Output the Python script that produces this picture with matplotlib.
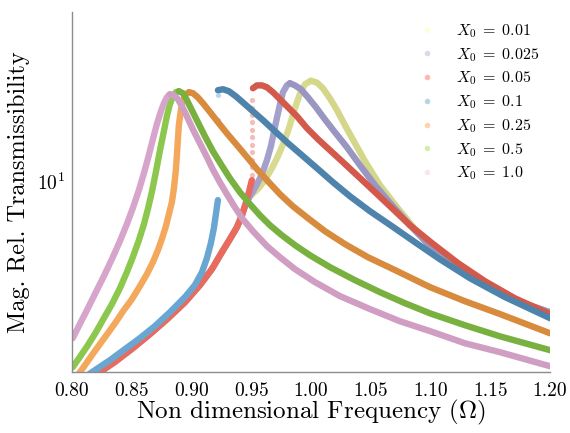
#Curvas de transmissibilidade relativa
import matplotlib
matplotlib.use('Agg')
import matplotlib.pyplot as plt
from matplotlib.lines import Line2D
from matplotlib.ticker import NullFormatter, FixedLocator

plt.rcParams['font.family'] = 'serif'
plt.rcParams['font.serif'] = ['cmr10']
plt.rcParams['mathtext.fontset'] = 'cm'
plt.rcParams['axes.unicode_minus'] = False

labels = [r'$X_0\;=\;0.01$', r'$X_0\;=\;0.025$', r'$X_0\;=\;0.05$', r'$X_0\;=\;0.1$',
          r'$X_0\;=\;0.25$', r'$X_0\;=\;0.5$', r'$X_0\;=\;1.0$']

# trecho de subida comum (X0 = 0.01 e 0.025)
w_comum = [0.8008, 0.8109, 0.8209, 0.8360, 0.8510, 0.8653, 0.8795, 0.8946, 0.9071, 0.9172,
           0.9255, 0.9322, 0.9381, 0.9423, 0.9456]
t_comum = [1.57, 1.67, 1.775, 1.98, 2.24, 2.54, 2.90, 3.38, 3.94, 4.55,
           5.29, 5.95, 6.62, 7.37, 8.21]

# X0 = 0.01
w_a_up = w_comum + [0.9490, 0.9556, 0.9615, 0.9674, 0.9724, 0.9774, 0.9816, 0.9849, 0.9883,
                    0.9916, 0.9950, 1.0000]
t_a_up = t_comum + [8.74, 9.31, 10.09, 11.24, 12.51, 14.18, 16.08, 18.06, 20.3,
                    22.4, 23.85, 24.6]
w_a_dn = [1.0000, 1.0050, 1.0100, 1.0159, 1.0218, 1.0285, 1.0368, 1.0452, 1.0577, 1.0720,
          1.0870, 1.0996, 1.1205, 1.1414, 1.1707, 1.2]
t_a_dn = [24.6, 24.2, 23.0, 21.0, 18.9, 16.5, 14.06, 11.96, 9.65, 7.92,
          6.51, 5.59, 4.71, 4.05, 3.44, 3.09]

# X0 = 0.025
w_b_up = w_comum + [0.9490, 0.9540, 0.9590, 0.9632, 0.9665, 0.9690, 0.9715, 0.9741, 0.9766,
                    0.9799, 0.9824]
t_b_up = t_comum + [8.74, 9.56, 10.65, 12.07, 13.68, 15.5, 17.6, 19.9, 22.2,
                    23.6, 24.06]
w_b_dn = [0.9824, 0.9866, 0.9916, 0.9975, 1.0042, 1.0117, 1.0201, 1.0301, 1.0410, 1.0536,
          1.0678, 1.0828, 1.0996, 1.1205, 1.1414, 1.1707, 1.2]
t_b_dn = [24.06, 23.6, 22.8, 21.2, 19.4, 17.4, 15.5, 13.56, 11.54, 9.65,
          8.06, 6.74, 5.59, 4.71, 4.05, 3.44, 3.09]

# X0 = 0.05
w_c_up = [0.8008, 0.8109, 0.8209, 0.8360, 0.8510, 0.8653, 0.8795, 0.8946, 0.9071, 0.9172,
          0.9255, 0.9322, 0.9381, 0.9423, 0.9456, 0.9481, 0.9506]
t_c_up = [1.57, 1.67, 1.775, 1.98, 2.24, 2.54, 2.90, 3.38, 3.94, 4.55,
          5.29, 5.95, 6.62, 7.37, 8.21, 9.06, 10.09]
w_c_jump = [0.9506] * 11
t_c_jump = [10.55, 11.33, 12.07, 12.97, 13.8, 14.8, 15.8, 16.97, 18.06, 19.2, 20.7]
w_c_dn = [0.9515, 0.9548, 0.9590, 0.9632, 0.9682, 0.9741, 0.9808, 0.9883, 0.9967, 1.0059,
          1.0159, 1.0268, 1.0385, 1.0510, 1.0661, 1.0828, 1.1013, 1.1230, 1.1456, 1.1707, 1.2]
t_c_dn = [23.0, 23.6, 23.6, 23.2, 22.2, 20.85, 19.4, 17.9, 16.08, 14.57,
          13.2, 11.86, 10.55, 9.31, 7.99, 6.74, 5.74, 4.80, 4.08, 3.50, 3.04]

# X0 = 0.1
w_d_up = [0.8008, 0.8109, 0.8209, 0.8318, 0.8444, 0.8569, 0.8695, 0.8820, 0.8946, 0.9029,
          0.9088, 0.9130, 0.9163, 0.9188, 0.9205, 0.9222]
t_d_up = [1.61, 1.73, 1.86, 2.01, 2.22, 2.45, 2.73, 3.09, 3.54, 3.94,
          4.42, 5.02, 5.74, 6.56, 7.44, 8.44]
w_d_jump = [0.9222, 0.9222]
t_d_jump = [17.3, 21.6]
w_d_dn = [0.9222, 0.9264, 0.9314, 0.9372, 0.9439, 0.9515, 0.9598, 0.9699, 0.9808, 0.9925,
          1.0050, 1.0184, 1.0326, 1.0494, 1.0678, 1.0870, 1.1079, 1.1331, 1.1623, 1.2]
t_d_dn = [22.6, 22.8, 22.4, 21.4, 20.1, 18.7, 17.3, 15.65, 14.06, 12.62,
          11.24, 9.91, 8.74, 7.64, 6.68, 5.79, 4.97, 4.19, 3.54, 2.93]

# X0 = 0.25
w_e_up = [0.8050, 0.8109, 0.8167, 0.8234, 0.8301, 0.8368, 0.8435, 0.8502, 0.8569, 0.8628,
          0.8678, 0.8720, 0.8753, 0.8787, 0.8812, 0.8837, 0.8854, 0.8870, 0.8879, 0.8887,
          0.8895, 0.8912, 0.8929, 0.8954, 0.8979]
t_e_up = [1.76, 1.92, 2.10, 2.32, 2.56, 2.83, 3.15, 3.47, 3.90, 4.35,
          4.84, 5.39, 5.95, 6.68, 7.44, 8.29, 9.39, 11.04, 12.62, 14.44,
          16.5, 18.9, 20.7, 21.8, 22.2]
w_e_dn = [0.8979, 0.9013, 0.9054, 0.9105, 0.9163, 0.9230, 0.9305, 0.9389, 0.9473, 0.9556,
          0.9640, 0.9741, 0.9849, 0.9975, 1.0117, 1.0285, 1.0477, 1.0703, 1.0996, 1.1289,
          1.1582, 1.2]
t_e_dn = [22.2, 22.0, 21.2, 19.9, 18.4, 16.8, 15.2, 13.68, 12.29, 11.04,
          10.0, 8.90, 7.99, 7.18, 6.39, 5.69, 5.06, 4.51, 3.87, 3.41,
          3.04, 2.56]

# X0 = 0.5
w_f_up = [0.8008, 0.8067, 0.8134, 0.8201, 0.8268, 0.8335, 0.8402, 0.8460, 0.8510, 0.8561,
          0.8603, 0.8636, 0.8669, 0.8703, 0.8736, 0.8770, 0.8795, 0.8820, 0.8845, 0.8870,
          0.8895]
t_f_up = [1.89, 2.07, 2.30, 2.58, 2.93, 3.32, 3.83, 4.42, 5.06, 5.89,
          6.80, 7.78, 9.06, 10.84, 13.08, 15.65, 17.9, 19.9, 21.4, 22.2,
          22.4]
w_f_dn = [0.8895, 0.8929, 0.8962, 0.9004, 0.9054, 0.9113, 0.9180, 0.9247, 0.9322, 0.9406,
          0.9490, 0.9573, 0.9657, 0.9757, 0.9866, 0.9992, 1.0159, 1.0368, 1.0577, 1.0787,
          1.0996, 1.1289, 1.1582, 1.2]
t_f_dn = [22.4, 22.0, 20.7, 18.9, 16.97, 14.97, 13.08, 11.65, 10.27, 9.06,
          8.14, 7.37, 6.74, 6.16, 5.64, 5.15, 4.63, 4.12, 3.70, 3.35,
          3.06, 2.75, 2.49, 2.20]

# X0 = 1.0
w_g_up = [0.8008, 0.8067, 0.8134, 0.8201, 0.8268, 0.8335, 0.8402, 0.8460, 0.8510, 0.8561,
          0.8603, 0.8644, 0.8678, 0.8711, 0.8745, 0.8770, 0.8795, 0.8820]
t_g_up = [2.45, 2.78, 3.20, 3.70, 4.27, 4.97, 5.84, 6.80, 7.85, 9.23,
          10.74, 12.62, 14.57, 16.66, 18.7, 20.1, 21.2, 21.8]
w_g_dn = [0.8820, 0.8854, 0.8887, 0.8921, 0.8962, 0.9013, 0.9071, 0.9130, 0.9180, 0.9238,
          0.9297, 0.9364, 0.9431, 0.9515, 0.9632, 0.9741, 0.9866, 1.0033, 1.0243, 1.0494,
          1.0745, 1.0996, 1.1289, 1.1582, 1.2]
t_g_dn = [21.8, 21.6, 20.85, 19.6, 17.9, 15.9, 14.06, 12.4, 11.1, 9.91,
          8.90, 7.92, 7.11, 6.39, 5.59, 5.06, 4.55, 4.05, 3.57, 3.18,
          2.85, 2.61, 2.34, 2.16, 1.905]

cores_escuras = ['#d4d68a', '#9a96c2', '#d3594b', '#4e83ab', '#d98b3d', '#79b140', '#cf9ec2']
cores_claras = ['#d8da90', '#a4a0cc', '#ea6a5e', '#6aa6d2', '#f4a85b', '#8cc74e', '#d7a5cb']
cores_legenda = ['#ffffb3', '#bebada', '#fb8072', '#80b1d3', '#fdb462', '#b3de69', '#fccde5']

subidas = [(w_a_up, t_a_up), (w_b_up, t_b_up), (w_c_up, t_c_up), (w_d_up, t_d_up),
           (w_e_up, t_e_up), (w_f_up, t_f_up), (w_g_up, t_g_up)]
descidas = [(w_a_dn, t_a_dn), (w_b_dn, t_b_dn), (w_c_dn, t_c_dn), (w_d_dn, t_d_dn),
            (w_e_dn, t_e_dn), (w_f_dn, t_f_dn), (w_g_dn, t_g_dn)]
saltos = {2: (w_c_jump, t_c_jump), 3: (w_d_jump, t_d_jump)}

fig = plt.figure(figsize=(5.7, 4.33), dpi=100)
ax = fig.add_axes([0.126, 0.141, 0.839, 0.831])

for i in range(7):
    x, y = subidas[i]
    ax.plot(x, y, color=cores_claras[i], lw=4.6, solid_capstyle='round', solid_joinstyle='round')
    if i in saltos:
        xs, ys = saltos[i]
        ax.scatter(xs, ys, s=14, color=cores_claras[i], alpha=0.45, linewidths=0)
    x, y = descidas[i]
    ax.plot(x, y, color=cores_escuras[i], lw=4.6, solid_capstyle='round', solid_joinstyle='round')

ax.set_yscale('log')
ax.set_xlim(0.8, 1.2)
ax.set_ylim(1.81, 45.5)
xt = [0.80, 0.85, 0.90, 0.95, 1.00, 1.05, 1.10, 1.15, 1.20]
ax.set_xticks(xt)
ax.set_xticklabels(['%.2f' % v for v in xt])
ax.yaxis.set_major_locator(FixedLocator([10]))
ax.set_yticklabels(['$10^{1}$'])
ax.yaxis.set_minor_formatter(NullFormatter())
ax.tick_params(which='both', length=0, labelsize=14)
ax.tick_params(axis='x', pad=7)
ax.tick_params(axis='y', pad=5)

for s in ['top', 'right']:
    ax.spines[s].set_visible(False)
for s in ['left', 'bottom']:
    ax.spines[s].set_color('#8c8c8c')
    ax.spines[s].set_linewidth(1.0)

ax.set_xlabel(r'Non dimensional Frequency ($\Omega$)', fontsize=18, labelpad=-1)
ax.set_ylabel('Mag. Rel. Transmissibility', fontsize=17.5, labelpad=5)

handles = [Line2D([], [], ls='none', marker='o', markersize=4, markeredgewidth=0,
                  color=c, alpha=0.55) for c in cores_legenda]
ax.legend(handles, labels, loc='upper left', bbox_to_anchor=(0.709, 0.994), frameon=False,
          fontsize=11.5, handlelength=1.0, handletextpad=1.3, labelspacing=0.375, borderpad=0)

fig.savefig('out.png', dpi=100)
